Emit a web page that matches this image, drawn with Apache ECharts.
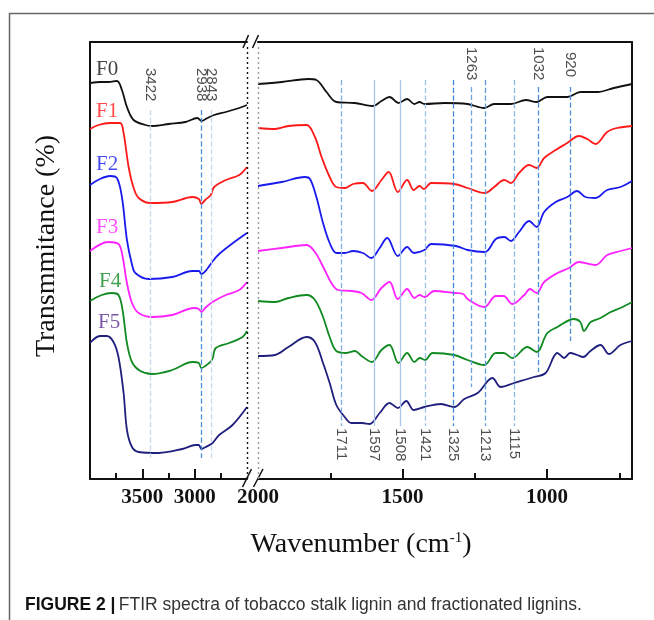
<!DOCTYPE html>
<html>
<head>
<meta charset="utf-8">
<style>
  html, body { margin: 0; padding: 0; background: #fff; }
  #chart { width: 654px; height: 620px; }
</style>
<script src="https://cdn.jsdelivr.net/npm/echarts@6/dist/echarts.min.js"></script>
</head>
<body>
<div id="chart"></div>
<script>
// sample names
var names = ["F0", "F1", "F2", "F3", "F4", "F5"];

// spectra: [wavenumber, transmittance (arbitrary, stacked)]
// 4000 - 2500 cm-1 panel
var f0Left = [[4000,396],[3900,397],[3824,397],[3743,398],[3695,389],[3647,372],[3583,359],[3471,354],[3407,353],[3247,355],[3087,357],[2974,361],[2933,358],[2878,361],[2814,364],[2702,367],[2574,371],[2500,374]];
var f1Left = [[4000,350],[3920,354],[3808,356],[3712,356],[3679,346],[3631,312],[3583,291],[3535,281],[3423,276],[3215,277],[3022,282],[2960,280],[2936,275],[2900,279],[2846,284],[2814,292],[2702,299],[2574,304],[2500,312]];
var f2Left = [[4000,294],[3904,300],[3808,303],[3743,301],[3695,282],[3647,239],[3600,215],[3567,206],[3439,200],[3215,202],[3022,208],[2960,208],[2936,205],[2888,209],[2826,218],[2766,225],[2634,236],[2500,246]];
var f3Left = [[4000,228],[3824,237],[3728,235],[3695,226],[3647,196],[3599,176],[3535,166],[3407,162],[3215,164],[3006,171],[2960,170],[2936,167],[2900,171],[2830,177],[2702,184],[2574,189],[2500,197]];
var f4Left = [[4000,178],[3888,184],[3792,186],[3728,184],[3689,169],[3647,136],[3599,117],[3519,108],[3407,105],[3215,109],[3022,117],[2960,116],[2936,111],[2862,116],[2830,120],[2798,131],[2670,136],[2542,142],[2500,148]];
var f5Left = [[4000,136],[3904,143],[3840,143],[3776,137],[3728,122],[3679,86],[3647,49],[3599,32],[3535,27],[3343,26],[3119,30],[2990,34],[2960,34],[2936,30],[2894,32],[2830,36],[2766,44],[2638,54],[2500,72]];

// 2000 - 700 cm-1 panel
var f0Right = [[2000,395],[1918,397],[1826,400],[1798,399],[1763,387],[1729,377],[1666,376],[1602,373],[1573,378],[1545,382],[1514,376],[1484,380],[1459,375],[1441,377],[1424,375],[1355,376],[1275,375],[1217,371],[1183,375],[1125,375],[1073,379],[1036,377],[999,382],[930,382],[884,387],[826,387],[769,391],[706,395]];
var f1Right = [[2000,351],[1941,350],[1895,353],[1832,354],[1803,342],[1780,322],[1752,302],[1729,292],[1700,291],[1671,295],[1637,296],[1606,288],[1573,299],[1548,307],[1516,287],[1484,299],[1461,289],[1441,293],[1426,290],[1401,296],[1321,295],[1275,291],[1215,286],[1183,292],[1148,299],[1125,296],[1097,306],[1062,314],[1036,311],[1010,321],[970,329],[930,336],[890,343],[861,340],[832,335],[792,347],[758,351],[706,353]];
var f2Right = [[2000,293],[1918,297],[1838,302],[1820,300],[1798,282],[1775,256],[1752,236],[1729,226],[1700,226],[1671,228],[1637,226],[1608,221],[1579,231],[1553,241],[1516,223],[1484,232],[1461,226],[1424,229],[1401,235],[1315,233],[1275,229],[1215,227],[1177,240],[1148,242],[1125,238],[1097,247],[1062,258],[1036,252],[1010,267],[970,277],[930,282],[896,288],[867,282],[832,281],[792,289],[746,292],[706,298]];
var f3Right = [[2000,228],[1918,231],[1832,234],[1803,227],[1769,209],[1746,196],[1723,189],[1677,188],[1642,186],[1608,179],[1573,191],[1545,197],[1516,180],[1484,190],[1459,181],[1441,184],[1424,182],[1390,188],[1321,186],[1290,185],[1275,180],[1217,172],[1177,183],[1150,183],[1120,175],[1079,184],[1059,190],[1036,186],[1010,197],[964,206],[924,211],[890,217],[832,214],[792,224],[746,228],[706,231]];
var f4Right = [[2000,178],[1941,177],[1895,181],[1832,184],[1803,179],[1775,162],[1752,142],[1729,128],[1694,126],[1665,128],[1642,123],[1606,117],[1573,129],[1545,134],[1514,116],[1484,126],[1459,117],[1440,121],[1422,119],[1396,126],[1321,124],[1275,119],[1217,114],[1177,126],[1150,126],[1120,121],[1068,132],[1036,127],[999,146],[964,152],[907,160],[885,157],[872,148],[849,157],[815,161],[780,167],[746,171],[706,177]];
var f5Right = [[2000,123],[1941,124],[1895,132],[1832,142],[1803,137],[1775,116],[1752,96],[1729,74],[1700,62],[1677,56],[1640,56],[1614,55],[1579,66],[1545,76],[1516,71],[1487,78],[1461,69],[1424,72],[1367,75],[1321,72],[1286,80],[1240,86],[1189,101],[1160,92],[1114,96],[1045,102],[1005,106],[964,126],[941,121],[920,126],[896,124],[875,122],[850,128],[815,134],[786,125],[746,134],[706,138]];

// marked bands (cm-1)
var leftPeaks = [3422, 2938, 2843];
var rightTopPeaks = [1263, 1032, 920];
var rightBottomPeaks = [1711, 1597, 1508, 1421, 1325, 1213, 1115];

// axis ticks / labels
var leftMajor = [3500, 3000];
var leftMinor = [3750, 3250, 2750];
var rightMajor = [1500, 1000];
var rightMinor = [1750, 1250, 750];
var rightLabels = [2000, 1500, 1000];

// ---- styling -------------------------------------------------------------
var colors = ["#111111", "#ff1a1a", "#1a1aee", "#ff22ff", "#118a22", "#1f1f7e"];
var labelColors = ["#111111", "#ff1a1a", "#1a1aee", "#ff22ff", "#118a22", "#5a2d91"];
var nameY = [410, 368, 315, 252, 198, 157];
var nameX = [3942, 3942, 3942, 3942, 3913, 3923];

// vertical extent of each guide line and where its label starts
var guide = {
  3422: { from: 369, to: 21, label: 411, color: "#c8d8ee", type: "dashed" },
  2938: { from: 369, to: 21, label: 411, color: "#4a90d9", type: "dashed" },
  2843: { from: 369, to: 21, label: 411, color: "#c8d8ee", type: "dashed" },
  1711: { from: 399, to: 53, label: 51, color: "#80b0e6", type: "dashed" },
  1597: { from: 399, to: 53, label: 51, color: "#a9c5ee", type: "solid" },
  1508: { from: 399, to: 53, label: 51, color: "#a9c5ee", type: "solid" },
  1421: { from: 399, to: 53, label: 51, color: "#9dc0ec", type: "dashed" },
  1325: { from: 399, to: 53, label: 51, color: "#3f8ad8", type: "dashed" },
  1263: { from: 392, to: 92, label: 432, color: "#6aa2e2", type: "dashed" },
  1213: { from: 399, to: 53, label: 51, color: "#5e9be0", type: "dashed" },
  1115: { from: 399, to: 53, label: 51, color: "#8ab6e8", type: "dashed" },
  1032: { from: 392, to: 107, label: 432, color: "#4a90d9", type: "dashed" },
  920: { from: 392, to: 138, label: 427, color: "#4a90d9", type: "dashed" }
};

var serif = "Liberation Serif";
var sans = "Liberation Sans";

function guideLines(list) {
  return list.map(function (w) {
    var g = guide[w];
    var ls = { color: g.color, type: g.type, width: 1.3 };
    return [{ coord: [w, g.from], lineStyle: ls }, { coord: [w, g.to], lineStyle: ls }];
  });
}
function guideLabels(list) {
  return list.map(function (w) {
    return { name: String(w), value: [w, guide[w].label] };
  });
}

var leftData = [f0Left, f1Left, f2Left, f3Left, f4Left, f5Left];
var rightData = [f0Right, f1Right, f2Right, f3Right, f4Right, f5Right];

var series = [];
names.forEach(function (n, i) {
  [leftData[i], rightData[i]].forEach(function (d, k) {
    series.push({
      name: n,
      type: "line",
      xAxisIndex: k,
      yAxisIndex: k,
      data: d,
      showSymbol: false,
      smooth: 0.35,
      lineStyle: { color: colors[i], width: 1.8 },
      z: 3
    });
  });
});

var peakLabel = {
  show: true,
  formatter: "{b}",
  position: "inside",
  rotate: -90,
  align: "left",
  verticalAlign: "middle",
  fontFamily: sans,
  fontSize: 15,
  color: "#222"
};

series.push({
  type: "scatter",
  xAxisIndex: 0,
  yAxisIndex: 0,
  symbolSize: 0,
  silent: true,
  data: guideLabels(leftPeaks),
  label: peakLabel,
  markLine: {
    silent: true,
    symbol: ["none", "none"],
    label: { show: false },
    data: guideLines(leftPeaks).concat([
      [{ coord: [2500, 0], lineStyle: { color: "#111", type: [2, 3], width: 1.4 } },
       { coord: [2500, 434], lineStyle: { color: "#111", type: [2, 3], width: 1.4 } }]
    ])
  }
});
series.push({
  type: "scatter",
  xAxisIndex: 1,
  yAxisIndex: 1,
  symbolSize: 0,
  silent: true,
  data: guideLabels(rightTopPeaks.concat(rightBottomPeaks)),
  label: peakLabel,
  markLine: {
    silent: true,
    symbol: ["none", "none"],
    label: { show: false },
    data: guideLines(rightTopPeaks.concat(rightBottomPeaks)).concat([
      [{ coord: [2000, 0], lineStyle: { color: "#999", type: [2, 3], width: 1.4 } },
       { coord: [2000, 434], lineStyle: { color: "#999", type: [2, 3], width: 1.4 } }]
    ])
  }
});
series.push({
  type: "scatter",
  xAxisIndex: 0,
  yAxisIndex: 0,
  symbolSize: 0,
  silent: true,
  data: names.map(function (n, i) {
    return { name: n, value: [nameX[i], nameY[i]], label: { color: labelColors[i] } };
  }),
  label: {
    show: true,
    formatter: "{b}",
    position: "inside",
    align: "left",
    verticalAlign: "middle",
    fontFamily: serif,
    fontSize: 21
  },
  z: 5
});

var axisLineStyle = { show: true, lineStyle: { color: "#111", width: 2 } };
var tickFont = {
  fontFamily: serif, fontWeight: "bold", fontSize: 21, color: "#111", margin: 8,
  formatter: function (v) { return String(v); }
};

function xAx(grid, min, max, pos, extra) {
  var a = {
    type: "value", gridIndex: grid, min: min, max: max, inverse: true, position: pos,
    axisLine: { show: false }, axisTick: { show: false }, axisLabel: { show: false },
    splitLine: { show: false }
  };
  return Object.assign(a, extra || {});
}

var option = {
  animation: false,
  backgroundColor: "#fff",
  grid: [
    { left: 90, top: 42, width: 157, height: 437 },
    { left: 258, top: 42, width: 374, height: 437 }
  ],
  xAxis: [
    xAx(0, 2500, 4000, "bottom", {
      axisLine: axisLineStyle,
      axisTick: { show: true, inside: true, length: 10, lineStyle: { color: "#111", width: 2 }, customValues: leftMajor },
      axisLabel: Object.assign({ show: true, customValues: leftMajor }, tickFont)
    }),
    xAx(1, 706, 2000, "bottom", {
      axisLine: axisLineStyle,
      axisTick: { show: true, inside: true, length: 10, lineStyle: { color: "#111", width: 2 }, customValues: rightMajor },
      axisLabel: Object.assign({ show: true, customValues: rightLabels }, tickFont)
    }),
    xAx(0, 2500, 4000, "bottom", {
      axisTick: { show: true, inside: true, length: 6, lineStyle: { color: "#111", width: 2 }, customValues: leftMinor }
    }),
    xAx(1, 706, 2000, "bottom", {
      axisTick: { show: true, inside: true, length: 6, lineStyle: { color: "#111", width: 2 }, customValues: rightMinor }
    }),
    xAx(0, 2500, 4000, "top", { axisLine: axisLineStyle }),
    xAx(1, 706, 2000, "top", { axisLine: axisLineStyle })
  ],
  yAxis: [
    { type: "value", gridIndex: 0, min: 0, max: 437, position: "left",
      axisLine: axisLineStyle, axisTick: { show: false }, axisLabel: { show: false }, splitLine: { show: false } },
    { type: "value", gridIndex: 1, min: 0, max: 437, position: "right",
      axisLine: axisLineStyle, axisTick: { show: false }, axisLabel: { show: false }, splitLine: { show: false } }
  ],
  graphic: [
    { type: "polyline", silent: true, shape: { points: [[9.5, 620], [9.5, 13.5], [654, 13.5]] },
      style: { stroke: "#666", lineWidth: 1.5, fill: null } },
    // axis break marks
    { type: "line", silent: true, shape: { x1: 243, y1: 48, x2: 248.5, y2: 35 }, style: { stroke: "#111", lineWidth: 1.5 } },
    { type: "line", silent: true, shape: { x1: 252.5, y1: 48, x2: 258.5, y2: 35 }, style: { stroke: "#111", lineWidth: 1.5 } },
    { type: "line", silent: true, shape: { x1: 242.5, y1: 487, x2: 251.5, y2: 469 }, style: { stroke: "#111", lineWidth: 1.5 } },
    { type: "line", silent: true, shape: { x1: 253.5, y1: 487, x2: 263, y2: 469 }, style: { stroke: "#111", lineWidth: 1.5 } },
    { type: "text", silent: true, x: 47, y: 246, rotation: Math.PI / 2,
      style: { text: "Transmmitance (%)", fontFamily: serif, fontSize: 28, fill: "#111",
               align: "center", verticalAlign: "middle" } },
    { type: "text", silent: true, x: 361, y: 545,
      style: { text: "{n|Wavenumber (cm}{s|-1}{n|)}", align: "center", verticalAlign: "middle",
               rich: {
                 n: { fontFamily: serif, fontSize: 28, fill: "#111" },
                 s: { fontFamily: serif, fontSize: 15, fill: "#111", verticalAlign: "top" }
               } } },
    { type: "text", silent: true, x: 25, y: 605,
      style: { text: "{b|FIGURE 2 |} {r|FTIR spectra of tobacco stalk lignin and fractionated lignins.}",
               align: "left", verticalAlign: "middle",
               rich: {
                 b: { fontFamily: sans, fontWeight: "bold", fontSize: 17.5, fill: "#111" },
                 r: { fontFamily: sans, fontSize: 17.5, fill: "#333" }
               } } }
  ],
  series: series
};

var myChart = echarts.init(document.getElementById("chart"));
myChart.setOption(option);
</script>
</body>
</html>
